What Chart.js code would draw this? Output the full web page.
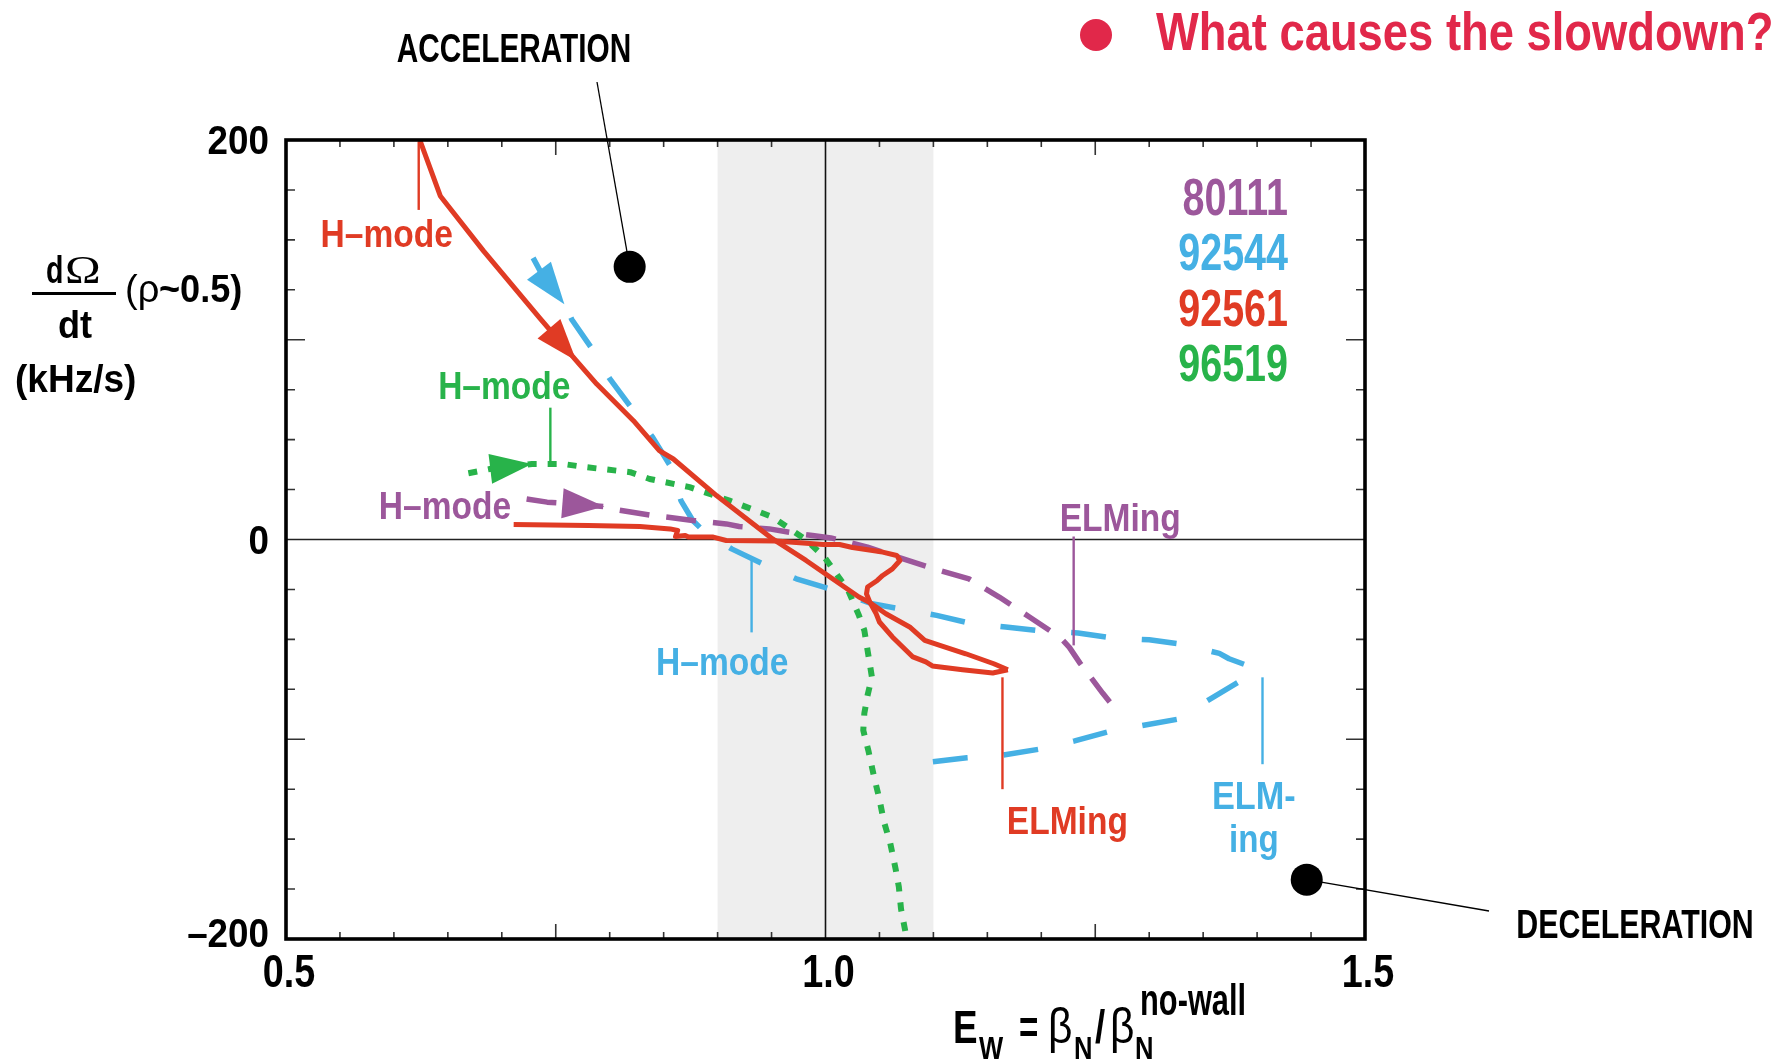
<!DOCTYPE html>
<html>
<head>
<meta charset="utf-8">
<title>Rotation slowdown vs E_w</title>
<script src="https://cdn.jsdelivr.net/npm/chart.js@4.4.1/dist/chart.umd.min.js"></script>
<style>
  html, body { margin: 0; padding: 0; background: #fff; }
  #wrap { position: relative; width: 1790px; height: 1060px; }
</style>
</head>
<body>
<div id="wrap"><canvas id="plot"></canvas></div>
<script>
// traces: [E_w, dOmega/dt (kHz/s) at rho~0.5]
const shot80111 = [
  [0.723,20.3],[0.742,18.7],[0.7556,18.2],[0.795,16.5],[0.808,14.8],[0.84,12],[0.856,11],
  [0.877,9.5],[0.908,7.8],[0.92,6.5],[0.948,5.3],[0.971,3.2],[0.988,2],[1.005,0.8],
  [1.039,-3.8],[1.067,-8.8],[1.101,-14.7],[1.133,-19.7],[1.161,-28.8],[1.189,-38.8],
  [1.217,-48.8],[1.226,-54],[1.236,-62],[1.257,-77],[1.266,-83]
];
const shot92544 = [
  [0.729,141],[0.738,132],[0.758,117.8],[0.765,110],[0.783,96],[0.8,80.5],[0.82,66],
  [0.84,51],[0.856,37],[0.866,19.5],[0.877,9.5],[0.885,5.3],[0.892,2.5],[0.913,-4.7],
  [0.942,-12.2],[0.973,-19.7],[1.004,-24.7],[1.042,-32],[1.069,-34.7],[1.103,-38],
  [1.133,-41.8],[1.167,-43.8],[1.2,-45.8],[1.234,-46.8],[1.266,-49.3],[1.3,-50.2],
  [1.331,-52.5],[1.365,-57],[1.374,-59.7],[1.399,-64.7],[1.383,-71.3],[1.356,-80],
  [1.326,-90],[1.295,-93],[1.262,-96.3],[1.231,-100.8],[1.198,-105],[1.164,-108],
  [1.131,-109.3],[1.099,-111.3]
];
// 92561 comes in two pieces: the fast H-mode descent and the slower branch near zero
const shot92561a = [
  [0.624,200],[0.643,172],[0.683,144.5],[0.735,111],[0.769,89.5],[0.788,77.8],[0.822,59.5],
  [0.846,44.5],[0.859,40.3],[0.899,22],[0.951,0.3],[0.982,-10.5],[1.031,-28.8],[1.041,-31.5],
  [1.056,-37.2],[1.078,-43.8],[1.092,-50.5],[1.106,-53],[1.13,-57.2],[1.156,-62.2],[1.169,-65.2]
];
const shot92561b = [
  [0.711,7.5],[0.78,7],[0.828,6.5],[0.856,5.3],[0.863,4.5],[0.861,1.5],[0.87,2],[0.873,1.2],
  [0.896,1.2],[0.908,-0.5],[0.954,-0.8],[0.998,-2.5],[1.013,-2.5],[1.025,-4],[1.053,-6.3],
  [1.066,-8],[1.069,-10.5],[1.062,-14.7],[1.053,-18],[1.048,-20.5],[1.039,-23.8],[1.038,-27.2],
  [1.041,-31.3],[1.047,-37.2],[1.05,-41.3],[1.062,-48.8],[1.081,-58.8],[1.093,-61.3],
  [1.099,-63.3],[1.127,-65.2],[1.155,-66.8],[1.169,-65.2]
];
const shot96519 = [
  [0.669,33.2],[0.689,35.3],[0.728,37.8],[0.735,37.8],[0.757,37.8],[0.778,36.2],[0.819,33.7],
  [0.837,30.3],[0.874,26.2],[0.911,19.5],[0.951,11.2],[0.982,-0.2],[0.999,-8.8],[1.021,-25.5],
  [1.031,-38],[1.036,-45.5],[1.039,-55.5],[1.043,-68.8],[1.039,-78],[1.036,-87],[1.035,-95.5],
  [1.04,-106.3],[1.045,-118.8],[1.05,-130],[1.054,-141],[1.06,-152],[1.065,-165],[1.068,-174],
  [1.07,-185],[1.075,-199]
];

const shotNames = ['80111', '92544', '92561', '96519'];
const xTickLabels = [0.5, 1.0, 1.5];
const yTickLabels = [200, 0, -200];
const wallBand = [0.9, 1.1];

const PURPLE = '#9c579b', BLUE = '#45b0e4', RED = '#e03b24', GREEN = '#28b34a';
const HEAD = '#e1284a';
const FONT = '"Liberation Sans", Arial, sans-serif';
const SERIF = '"Liberation Serif", "Times New Roman", serif';

const pts = arr => arr.map(([x, y]) => ({ x, y }));

// draw text with a horizontal squeeze (narrow bold face look)
function txt(ctx, s, x, y, o) {
  ctx.save();
  ctx.font = (o.weight || 'bold') + ' ' + o.size + 'px ' + (o.family || FONT);
  ctx.fillStyle = o.color || '#000';
  ctx.textBaseline = 'alphabetic';
  ctx.textAlign = 'left';
  const sx = o.sx || 1;
  const w = ctx.measureText(s).width * sx;
  let left = x;
  if (o.align === 'center') left = x - w / 2;
  else if (o.align === 'right') left = x - w;
  ctx.translate(left, y);
  ctx.scale(sx, 1);
  ctx.fillText(s, 0, 0);
  ctx.restore();
  return w;
}

function seg(ctx, x1, y1, x2, y2, color, w) {
  ctx.save();
  ctx.strokeStyle = color;
  ctx.lineWidth = w;
  ctx.beginPath();
  ctx.moveTo(x1, y1);
  ctx.lineTo(x2, y2);
  ctx.stroke();
  ctx.restore();
}

// arrowheads sit on a trace point, aimed along the incoming segment
const arrows = [
  { ds: 0, at: 4, color: RED },
  { ds: 3, at: 2, color: BLUE },
  { ds: 2, at: 3, color: PURPLE },
  { ds: 4, at: 2, color: GREEN }
];

// curve labels, placed in data units
const curveNotes = [
  { t: 'H\u2013mode', x: 0.532, y: 146.5, color: RED, line: [0.623, 199, 165] },
  { t: 'H\u2013mode', x: 0.641, y: 70.5, color: GREEN, line: [0.745, 66, 39] },
  { t: 'H\u2013mode', x: 0.586, y: 10.5, color: PURPLE },
  { t: 'H\u2013mode', x: 0.843, y: -68, color: BLUE, line: [0.9315, -10, -46.5] },
  { t: 'ELMing', x: 1.217, y: 4.5, color: PURPLE, line: [1.230, 1.5, -53] },
  { t: 'ELMing', x: 1.168, y: -147.5, color: RED, line: [1.164, -69, -125] },
  { t: 'ELM-', x: 1.397, y: -135, color: BLUE, align: 'center', sx: 0.88, line: [1.405, -69, -112.5] },
  { t: 'ing', x: 1.397, y: -156.5, color: BLUE, align: 'center', sx: 0.85 }
];

const decor = {
  id: 'decor',
  beforeDatasetsDraw(chart) {
    const { ctx, chartArea: a, scales: { x, y } } = chart;
    ctx.save();
    ctx.fillStyle = '#eeeeee';
    const b0 = x.getPixelForValue(wallBand[0]), b1 = x.getPixelForValue(wallBand[1]);
    ctx.fillRect(b0, a.top, b1 - b0, a.bottom - a.top);
    ctx.restore();
    const x1 = x.getPixelForValue(1), y0 = y.getPixelForValue(0);
    seg(ctx, x1, a.top, x1, a.bottom, '#111', 1.6);
    seg(ctx, a.left, y0, a.right, y0, '#222', 1.6);
  },
  afterDatasetsDraw(chart) {
    const { ctx, chartArea: a, scales: { x, y } } = chart;

    arrows.forEach(ar => {
      const p = chart.getDatasetMeta(ar.ds).data;
      const tip = p[ar.at], prev = p[ar.at - 1];
      const ang = Math.atan2(tip.y - prev.y, tip.x - prev.x);
      ctx.save();
      ctx.translate(tip.x, tip.y);
      ctx.rotate(ang);
      ctx.beginPath();
      ctx.moveTo(0, 0);
      ctx.lineTo(-42, -15);
      ctx.lineTo(-42, 15);
      ctx.closePath();
      ctx.fillStyle = ar.color;
      ctx.fill();
      ctx.restore();
    });

    // inward ticks on all four sides
    ctx.save();
    ctx.strokeStyle = '#333';
    ctx.lineWidth = 1.6;
    ctx.beginPath();
    for (let i = 1; i < 20; i++) {
      const v = 0.5 + i * 0.05;
      if (Math.abs(v - 1) < 1e-6) continue;
      const px = x.getPixelForValue(v);
      const len = (Math.abs(v - 0.75) < 1e-6 || Math.abs(v - 1.25) < 1e-6) ? 15 : 7;
      ctx.moveTo(px, a.bottom); ctx.lineTo(px, a.bottom - len);
      ctx.moveTo(px, a.top); ctx.lineTo(px, a.top + len);
    }
    for (let i = 1; i < 16; i++) {
      const v = -200 + i * 25;
      if (v === 0) continue;
      const py = y.getPixelForValue(v);
      const len = Math.abs(v) === 100 ? 19 : 9;
      ctx.moveTo(a.left, py); ctx.lineTo(a.left + len, py);
      ctx.moveTo(a.right, py); ctx.lineTo(a.right - len, py);
    }
    ctx.stroke();
    ctx.restore();

    // frame
    ctx.save();
    ctx.strokeStyle = '#000';
    ctx.lineWidth = 3.6;
    ctx.strokeRect(a.left, a.top, a.right - a.left, a.bottom - a.top);
    ctx.restore();

    // tick labels
    yTickLabels.forEach(v => {
      const py = y.getPixelForValue(v);
      const s = v < 0 ? '\u2013' + Math.abs(v) : String(v);
      txt(ctx, s, a.left - 17, Math.min(py + 14, a.bottom + 8), { size: 40, sx: 0.92, align: 'right' });
    });
    xTickLabels.forEach(v => {
      txt(ctx, v.toFixed(1), x.getPixelForValue(v) + 3, a.bottom + 48, { size: 46, sx: 0.82, align: 'center' });
    });

    // curve labels with leader ticks
    curveNotes.forEach(n => {
      if (n.line) {
        const lx = x.getPixelForValue(n.line[0]);
        seg(ctx, lx, y.getPixelForValue(n.line[1]), lx, y.getPixelForValue(n.line[2]), n.color, 2.4);
      }
      txt(ctx, n.t, x.getPixelForValue(n.x), y.getPixelForValue(n.y),
          { size: 39, sx: n.sx || 0.86, color: n.color, align: n.align || 'left' });
    });

    // shot numbers
    const colors = [PURPLE, BLUE, RED, GREEN];
    shotNames.forEach((s, i) => {
      txt(ctx, s, x.getPixelForValue(1.4287), y.getPixelForValue(162.5 - i * 27.75),
          { size: 52, sx: 0.76, color: colors[i], align: 'right' });
    });

    // acceleration / deceleration markers
    const acc = { x: x.getPixelForValue(0.8185), y: y.getPixelForValue(136.5) };
    const dec = { x: x.getPixelForValue(1.446), y: y.getPixelForValue(-170.3) };
    seg(ctx, 597, 82, acc.x, acc.y, '#000', 1.3);
    seg(ctx, dec.x, dec.y, 1489, 911, '#000', 1.3);
    [acc, dec].forEach(p => {
      ctx.save();
      ctx.fillStyle = '#000';
      ctx.beginPath();
      ctx.arc(p.x, p.y, 16, 0, Math.PI * 2);
      ctx.fill();
      ctx.restore();
    });
    txt(ctx, 'ACCELERATION', 514, 62, { size: 40, sx: 0.745, align: 'center' });
    txt(ctx, 'DECELERATION', 1635, 938, { size: 40, sx: 0.76, align: 'center' });

    // heading
    ctx.save();
    ctx.fillStyle = HEAD;
    ctx.beginPath();
    ctx.arc(1096, 35, 16, 0, Math.PI * 2);
    ctx.fill();
    ctx.restore();
    txt(ctx, 'What causes the slowdown?', 1156, 50, { size: 54, sx: 0.84, color: HEAD });

    // y axis title
    txt(ctx, 'd', 46, 283, { size: 38, sx: 0.75 });
    txt(ctx, '\u03A9', 65, 283, { size: 40, sx: 1.2, weight: 'normal', family: SERIF });
    seg(ctx, 32, 293.5, 116, 293.5, '#000', 3.2);
    txt(ctx, 'dt', 75, 338, { size: 38, sx: 0.95, align: 'center' });
    txt(ctx, '(\u03C1', 125, 302, { size: 38, weight: 'normal' });
    txt(ctx, '~0.5)', 159, 302, { size: 38, sx: 0.95 });
    txt(ctx, '(kHz/s)', 15, 392, { size: 39, sx: 0.95 });

    // x axis title: E_W = beta_N / beta_N^no-wall
    txt(ctx, 'E', 953, 1043, { size: 46, sx: 0.8 });
    txt(ctx, 'W', 979, 1059, { size: 32, sx: 0.8 });
    txt(ctx, '=', 1019, 1043, { size: 46, sx: 0.72 });
    txt(ctx, '\u03B2', 1048, 1043, { size: 50, sx: 0.85, weight: 'normal' });
    txt(ctx, 'N', 1074, 1059, { size: 32, sx: 0.8 });
    txt(ctx, '/', 1095, 1043, { size: 46, sx: 0.8 });
    txt(ctx, '\u03B2', 1110, 1043, { size: 50, sx: 0.85, weight: 'normal' });
    txt(ctx, 'N', 1135, 1059, { size: 32, sx: 0.8 });
    txt(ctx, 'no-wall', 1140, 1015, { size: 44, sx: 0.7 });
  }
};

const line = (data, color, dash, width) => ({
  data: pts(data),
  showLine: true,
  borderColor: color,
  backgroundColor: color,
  borderWidth: width,
  borderDash: dash,
  borderCapStyle: 'butt',
  borderJoinStyle: 'round',
  pointRadius: 0,
  tension: 0
});

new Chart(document.getElementById('plot'), {
  type: 'scatter',
  data: {
    datasets: [
      line(shot92561a, RED, [], 5),
      line(shot92561b, RED, [], 5),
      line(shot80111, PURPLE, [30, 17], 5.5),
      line(shot92544, BLUE, [35, 36], 5.5),
      line(shot96519, GREEN, [9, 11], 6)
    ]
  },
  options: {
    responsive: true,
    maintainAspectRatio: false,
    animation: false,
    layout: { padding: { left: 286, top: 140, right: 425, bottom: 121 } },
    scales: {
      x: { type: 'linear', min: 0.5, max: 1.5, display: false },
      y: { type: 'linear', min: -200, max: 200, display: false }
    },
    plugins: { legend: { display: false }, tooltip: { enabled: false } }
  },
  plugins: [decor]
});
</script>
</body>
</html>
